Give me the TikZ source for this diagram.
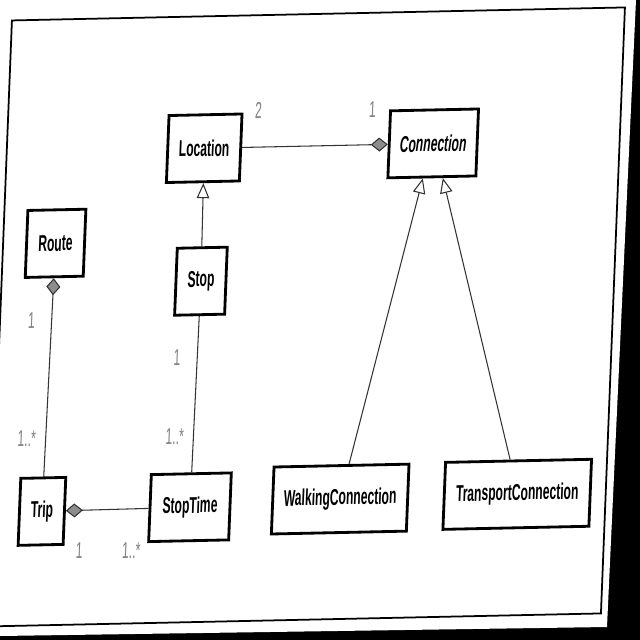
\documentclass[tikz,border=0pt]{standalone}
\usepackage{fontspec}
\setmainfont{Liberation Sans}
\newfontfamily\umlfont[FakeStretch=0.53]{Liberation Sans}
\usetikzlibrary{arrows.meta}

\begin{document}
\begin{tikzpicture}[
  x=0.02cm,y=-0.02cm,
  cls/.style={draw=black,line width=1.6pt,fill=white,minimum height=1.34cm,inner sep=2pt,
    font=\umlfont\bfseries\fontsize{13pt}{15pt}\selectfont,transform shape},
  abscls/.style={cls,font=\umlfont\bfseries\itshape\fontsize{13pt}{15pt}\selectfont},
  mult/.style={text=black!50,font=\umlfont\fontsize{13pt}{15pt}\selectfont,transform shape},
  assoc/.style={draw=black!80,line width=0.6pt},
  comp/.style={assoc,-{Diamond[length=0.34cm,width=0.28cm,fill=black!45]}},
  gen/.style={assoc,-{Triangle[open,length=0.3cm,width=0.25cm]}},
  frame/.style={draw=black,line width=1pt}
]
  % photographed page on a dark background
  \useasboundingbox (0,0) rectangle (640,640);
  \fill[black] (0,0) rectangle (640,640);
  \fill[white] (0,0) -- (636,0) -- (607,627) -- (0,636) -- cycle;

  \begin{scope}[cm={1,0.0212,0.0396,1,(6.13cm,-6.34cm)}]
    \draw[frame] (-306.5,-303) rectangle (306.5,303);

    % classes
    \node[cls,minimum width=1.46cm] (loc) at (-109,-171) {Location};
    \node[abscls,minimum width=1.76cm] (conn) at (120,-171) {Connection};
    \node[cls,minimum width=1.16cm] (route) at (-254,-79) {Route};
    \node[cls,minimum width=1.0cm] (stop) at (-107,-38) {Stop};
    \node[cls,minimum width=0.9cm] (trip) at (-257,189) {Trip};
    \node[cls,minimum width=1.6cm] (stoptime) at (-109,188) {StopTime};
    \node[cls,minimum width=2.7cm] (walk) at (41,183) {WalkingConnection};
    \node[cls,minimum width=2.92cm] (transport) at (218,182) {TransportConnection};

    % relations
    \draw[comp] (loc) -- (conn);
    \draw[gen] (stop) -- (loc);
    \draw[comp] (trip) -- (route);
    \draw[assoc] (stop) -- (stoptime);
    \draw[comp] (stoptime) -- (trip);
    \draw[gen] ([xshift=.15cm]walk.north) -- ([xshift=-.18cm]conn.south);
    \draw[gen] ([xshift=-.17cm]transport.north) -- ([xshift=.22cm]conn.south);

    % multiplicities
    \node[mult] (mloc) at (-56,-208) {2};
    \node[mult] (mconn) at (58,-206) {1};
    \node[mult] (mroute) at (-275,-2) {1};
    \node[mult] (mtrip) at (-275,116) {1..*};
    \node[mult] (mstop) at (-128,38) {1};
    \node[mult] (mst) at (-127,117) {1..*};
    \node[mult] (mtrip2) at (-218,229) {1};
    \node[mult] (mst2) at (-166,230) {1..*};
  \end{scope}
\end{tikzpicture}
\end{document}
